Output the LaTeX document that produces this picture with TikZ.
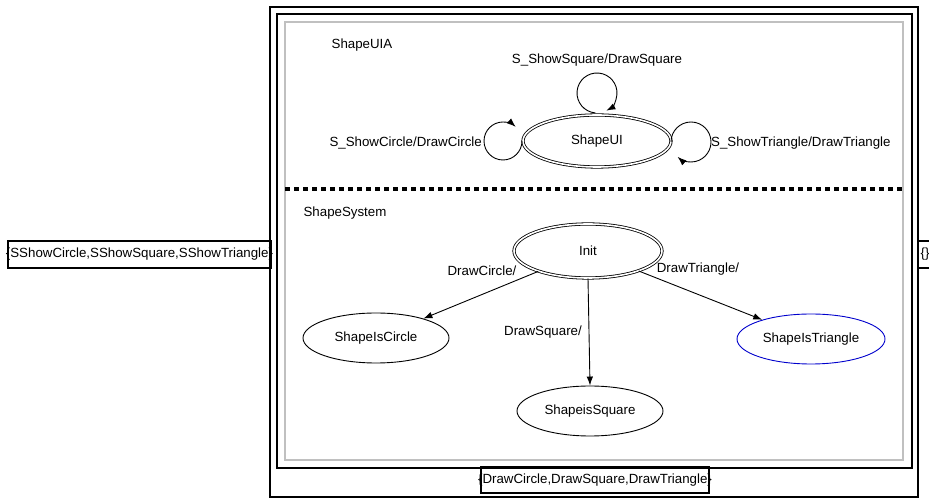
\documentclass[tikz,border=0pt]{standalone}
\usepackage{fontspec}
\setmainfont{Liberation Sans}
\usetikzlibrary{shapes.geometric,arrows.meta}
\begin{document}
\begin{tikzpicture}[x=1pt,y=1pt,
  txt/.style={font=\fontsize{13.3}{15}\selectfont, inner sep=0pt},
  st/.style={ellipse, draw, line width=0.9pt, inner sep=0pt, font=\fontsize{13.3}{15}\selectfont},
  dst/.style={st, double, double distance=1.6pt, line width=0.8pt},
  tr/.style={-{Latex[length=9pt,width=6.5pt]}, line width=0.9pt}
]
\useasboundingbox (0,0) rectangle (929,500);
% frames
\draw[line width=1.8pt] (270,3) rectangle (918,493);
\draw[line width=2.8pt] (277,32) rectangle (912,486);
\draw[line width=2.8pt, color={rgb,255:red,192;green,192;blue,192}] (285,40) rectangle (903,478);
\draw[line width=3.4pt, dash pattern=on 5pt off 4pt] (285,311) -- (903,311);
% ports
\node[txt] (inp) at (139.5,245.5) {\{SShowCircle,SShowSquare,SShowTriangle\}};
\draw[line width=2pt] (8,232) rectangle (271,259);
\node[txt] (outr) at (925,245.5) {\{\}};
\draw[line width=2pt] (918,232) rectangle (935,259);
\node[txt] (outb) at (595,20) {\{DrawCircle,DrawSquare,DrawTriangle\}};
\draw[line width=2.2pt] (481,7) rectangle (709,33);
% region labels
\node[txt] (lblA) at (362,455) {ShapeUIA};
\node[txt] (lblS) at (345,287) {ShapeSystem};
% ShapeUI
\node[dst, minimum width=148pt, minimum height=52pt] (ui) at (597,359) {ShapeUI};
\coordinate (ct) at (597,407);
\coordinate (cl) at (503,359);
\coordinate (cr) at (691,358);
\draw[tr] ([shift={(265:20pt)}]ct) arc[start angle=265, end angle=-62, radius=20pt];
\draw[tr] ([shift={(0:19pt)}]cl) arc[start angle=0, end angle=-312, radius=19pt];
\draw[tr] ([shift={(180:20pt)}]cr) arc[start angle=180, end angle=-132, radius=20pt];
\node[txt] (l1) at (597,440) {S\_ShowSquare/DrawSquare};
\node[txt, anchor=east] (l2) at (482,357) {S\_ShowCircle/DrawCircle};
\node[txt, anchor=west] (l3) at (711,357) {S\_ShowTriangle/DrawTriangle};
% ShapeSystem
\node[dst, minimum width=148pt, minimum height=54pt] (init) at (588,249) {Init};
\node[st, minimum width=146pt, minimum height=50pt] (circ) at (376,162) {ShapeIsCircle};
\node[st, minimum width=146pt, minimum height=50pt] (sq) at (590,89) {ShapeisSquare};
\node[st, draw={rgb,255:red,0;green,0;blue,204}, minimum width=148pt, minimum height=50pt] (tri) at (811,161) {ShapeIsTriangle};
\draw[tr] (init) -- (circ);
\draw[tr] (init.south) -- (sq.north);
\draw[tr] (init) -- (tri);
\node[txt] (a1) at (482,229) {DrawCircle/};
\node[txt] (a2) at (543,168) {DrawSquare/};
\node[txt] (a3) at (698,231) {DrawTriangle/};
\end{tikzpicture}
\end{document}
